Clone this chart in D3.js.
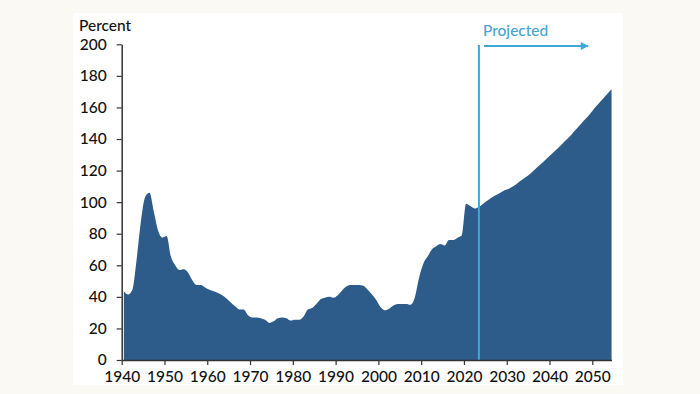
<!DOCTYPE html>
<html>
<head>
<meta charset="utf-8">
<script src="https://cdn.jsdelivr.net/npm/d3@7"></script>
<style>
  html, body { margin: 0; padding: 0; background: #fbf9f4; }
  svg { display: block; }
  .tick text { font-family: Lato, "Noto Sans", sans-serif; font-size: 15.5px; font-weight: 500; fill: #111; }
</style>
</head>
<body>
<div id="chart"></div>
<script>
// debt held by the public, percent of GDP
var histYears = d3.range(1940, 2024);
var histValues = [
  43.6, 41.5, 44.5, 64, 88, 103.5, 106, 94, 82, 77.5,          // 1940s
  78.5, 65.5, 60, 57, 57.5, 55.5, 50.5, 47.5, 47.5, 46,        // 1950s
  44.5, 43.5, 42.5, 41, 39, 36.5, 34, 32, 32, 28.5,            // 1960s
  27, 27, 26.5, 25.5, 23.5, 24.5, 26.5, 27, 26.5, 25,          // 1970s
  25.5, 25.5, 27.5, 32, 33, 35.5, 38.5, 39.5, 40, 39.5,        // 1980s
  41, 44, 46.5, 47.5, 47.5, 47.5, 47, 44.5, 41.5, 38,          // 1990s
  33.5, 31.5, 32.5, 34.5, 35.5, 35.5, 35.5, 35, 39.5, 52,      // 2000s
  61, 65.5, 70, 72, 73.5, 72.5, 76, 76, 77.5, 79,              // 2010s
  99, 97.5, 96, 97                                             // 2020-2023
];
var projYears = d3.range(2024, 2055);
var projValues = [
  99, 101, 103, 104.5, 106, 107.5,
  108.5, 110, 112, 114, 116, 118, 120.5, 123, 125.5, 128,
  130.5, 133, 135.5, 138.5, 141, 144, 147, 150, 153, 156,
  159.5, 162.5, 165.5, 168.5, 171.5
];
var yTicks = [0, 20, 40, 60, 80, 100, 120, 140, 160, 180, 200];
var xTicks = [1940, 1950, 1960, 1970, 1980, 1990, 2000, 2010, 2020, 2030, 2040, 2050];
var lastActual = 2023;   // projection starts after this year
var arrowEnd = 2049;

var width = 700, height = 394;
var font = "Lato, 'Noto Sans', sans-serif";

var svg = d3.select("#chart").append("svg")
    .attr("width", width)
    .attr("height", height);

// panneau blanc
svg.append("rect")
    .attr("x", 73).attr("y", 13)
    .attr("width", 550).attr("height", 372)
    .attr("fill", "#fff");

var x = d3.scaleLinear()
    .domain([1940, 2050])
    .range([121.7, 592.3]);
var y = d3.scaleLinear()
    .domain([0, 200])
    .range([360, 44.3]);

var data = [];
histYears.forEach(function(yr, i) { data.push({year: yr, value: histValues[i]}); });
projYears.forEach(function(yr, i) { data.push({year: yr, value: projValues[i]}); });

// fiscal years drawn at mid-year
var area = d3.area()
    .x(function(d) { return x(d.year + 0.5); })
    .y0(y(0))
    .y1(function(d) { return y(d.value); })
    .curve(d3.curveMonotoneX);

svg.append("path")
    .datum(data)
    .attr("d", area)
    .attr("fill", "#2e5c8a");

// projected marker
var px = x(lastActual + 0.5);
var blue = "#3fa7d6";
svg.append("line")
    .attr("x1", px).attr("x2", px)
    .attr("y1", y(199.5)).attr("y2", y(0))
    .attr("stroke", blue)
    .attr("stroke-width", 2);

svg.append("defs").append("marker")
    .attr("id", "head")
    .attr("viewBox", "0 0 10 10")
    .attr("refX", 9).attr("refY", 5)
    .attr("markerWidth", 4.5).attr("markerHeight", 4)
    .attr("orient", "auto")
    .append("path")
    .attr("d", "M0,0L10,5L0,10Z")
    .attr("fill", blue);

svg.append("line")
    .attr("x1", px + 5).attr("x2", x(arrowEnd))
    .attr("y1", 46).attr("y2", 46)
    .attr("stroke", blue)
    .attr("stroke-width", 2)
    .attr("marker-end", "url(#head)");

svg.append("text")
    .attr("x", px + 4).attr("y", 36)
    .attr("fill", "#4aa3cf")
    .style("font-family", font)
    .style("font-size", "15.5px")
    .style("font-weight", 500)
    .text("Projected");

// axes
var xAxis = svg.append("g")
    .attr("transform", "translate(0," + y(0) + ")")
    .call(d3.axisBottom(x.copy().domain([1940, 2054.5]).range([121.7, x(2054.5)]))
        .tickValues(xTicks).tickFormat(d3.format("d"))
        .tickSize(5).tickSizeOuter(0).tickPadding(4));

var yAxis = svg.append("g")
    .attr("transform", "translate(" + x(1940) + ",0)")
    .call(d3.axisLeft(y).tickValues(yTicks).tickSize(5).tickSizeOuter(0).tickPadding(10));

[xAxis, yAxis].forEach(function(g) {
    g.select(".domain").attr("stroke", "#333").attr("stroke-width", 1.5);
    g.selectAll(".tick line").attr("stroke", "#333").attr("stroke-width", 1.2);
});
xAxis.selectAll(".tick text").attr("dy", "0.85em");

svg.append("text")
    .attr("x", 79).attr("y", 31)
    .attr("fill", "#111")
    .style("font-family", font)
    .style("font-size", "15.5px")
    .style("font-weight", 500)
    .text("Percent");
</script>
</body>
</html>
